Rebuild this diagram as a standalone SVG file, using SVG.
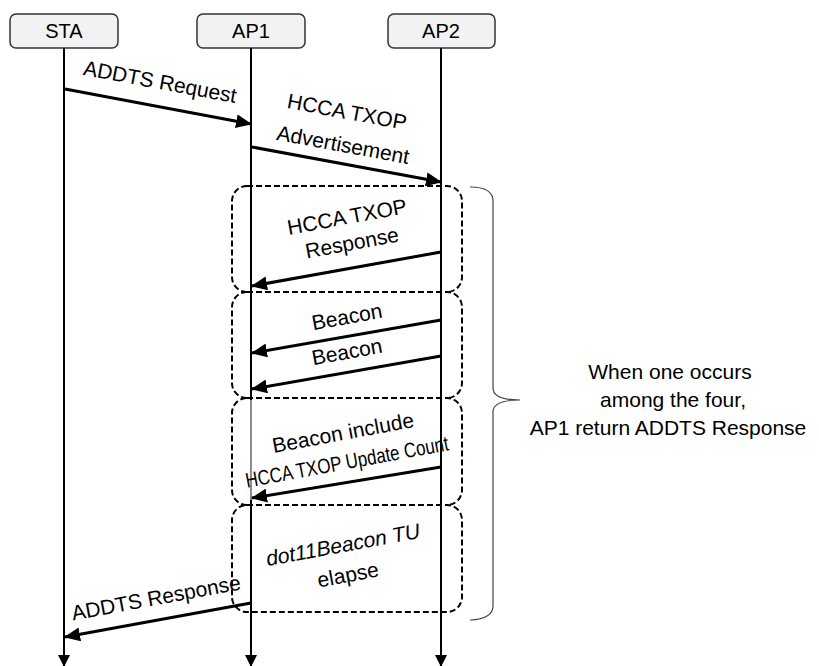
<svg xmlns="http://www.w3.org/2000/svg" width="819" height="666" viewBox="0 0 819 666">
  <style>
    .hdr { fill: #f2f2f2; stroke: #333; stroke-width: 1.5; }
    .hdrtxt { font-family: "Liberation Sans", Arial, sans-serif; font-size: 20px; fill: #000; text-anchor: middle; }
    .life { stroke: #000; stroke-width: 2; fill: none; marker-end: url(#down); }
    .msg { stroke: #000; stroke-width: 3; fill: none; marker-end: url(#head); }
    .lbl { font-family: "Liberation Sans", Arial, sans-serif; font-size: 21px; fill: #000; text-anchor: middle; }
    .box { fill: none; stroke: #000; stroke-width: 2; stroke-dasharray: 6 3; }
    .brace { fill: none; stroke: #444; stroke-width: 1.2; }
  </style>
  <defs>
    <marker id="head" viewBox="0 0 16 14" refX="15" refY="7" markerWidth="16" markerHeight="14" markerUnits="userSpaceOnUse" orient="auto">
      <path d="M0,0 L16,7 L0,14 z" fill="#000"/>
    </marker>
    <marker id="headGray" viewBox="0 0 16 14" refX="15" refY="7" markerWidth="16" markerHeight="14" markerUnits="userSpaceOnUse" orient="auto">
      <path d="M0,0 L16,7 L0,14 z" fill="#8c8c8c"/>
    </marker>
    <marker id="down" viewBox="0 0 12 12" refX="12" refY="6" markerWidth="12" markerHeight="12" markerUnits="userSpaceOnUse" orient="auto">
      <path d="M0,0 L12,6 L0,12 z" fill="#000"/>
    </marker>
  </defs>

  <!-- participants -->
  <g id="sta">
    <rect class="hdr" x="10" y="14" width="108" height="34" rx="6"/>
    <text class="hdrtxt" x="64" y="38">STA</text>
  </g>
  <g id="ap1">
    <rect class="hdr" x="197" y="14" width="108" height="34" rx="6"/>
    <text class="hdrtxt" x="251" y="38">AP1</text>
  </g>
  <g id="ap2">
    <rect class="hdr" x="388" y="14" width="107" height="34" rx="6"/>
    <text class="hdrtxt" x="441" y="38">AP2</text>
  </g>

  <!-- alternative condition boxes: a shared edge is drawn once, by the lower box -->
  <g id="cond-response">
    <path class="box" d="M247,186 H447 A15,15 0 0 1 462,201 V277 A15,15 0 0 1 447,292 M247,292 A15,15 0 0 1 232,277 V201 A15,15 0 0 1 247,186"/>
  </g>
  <g id="cond-beacons">
    <path class="box" d="M247,292 H447 A15,15 0 0 1 462,307 V383 A15,15 0 0 1 447,398 M247,398 A15,15 0 0 1 232,383 V307 A15,15 0 0 1 247,292"/>
  </g>
  <g id="cond-update-count">
    <path class="box" d="M247,398 H447 A15,15 0 0 1 462,413 V490 A15,15 0 0 1 447,505 M247,505 A15,15 0 0 1 232,490 V413 A15,15 0 0 1 247,398"/>
  </g>
  <g id="cond-timeout">
    <path class="box" d="M247,505 H447 A15,15 0 0 1 462,520 V597 A15,15 0 0 1 447,612 H247 A15,15 0 0 1 232,597 V520 A15,15 0 0 1 247,505"/>
  </g>

  <!-- connectors -->
  <g id="connectors">
    <line class="life" x1="64" y1="48" x2="64" y2="667"/>
    <line class="life" x1="251" y1="48" x2="251" y2="667"/>
    <line x1="251" y1="400" x2="251" y2="500" stroke="#8c8c8c" stroke-width="2"/>
    <line class="life" x1="441" y1="48" x2="441" y2="667"/>

    <line class="msg" x1="65" y1="89" x2="251" y2="124"/>
    <line class="msg" x1="252" y1="147" x2="441" y2="182"/>
    <line class="msg" x1="441" y1="252" x2="252" y2="286"/>
    <line class="msg" x1="441" y1="320" x2="252" y2="353"/>
    <line class="msg" x1="441" y1="356" x2="252" y2="389"/>
    <line class="msg" x1="441" y1="467" x2="252" y2="498" marker-end="url(#headGray)"/>
    <line class="msg" x1="251" y1="603" x2="65" y2="637"/>

    <path class="brace" d="M470,187 Q493,187 493,201 L493,388 Q493,400 520,400 Q493,400 493,412 L493,606 Q493,619 470,620"/>
  </g>

  <!-- message labels -->
  <g id="labels">
    <text class="lbl" transform="translate(160,82) rotate(10.5)" y="7">ADDTS Request</text>
    <text class="lbl" transform="translate(347,112) rotate(10.5)" y="7">HCCA TXOP</text>
    <text class="lbl" transform="translate(343,145) rotate(10.5)" y="7">Advertisement</text>
    <text class="lbl" transform="translate(347,217) rotate(-10.5)" y="7">HCCA TXOP</text>
    <text class="lbl" transform="translate(352,243) rotate(-10.5)" y="7">Response</text>
    <text class="lbl" transform="translate(347,317) rotate(-10.5)" y="7">Beacon</text>
    <text class="lbl" transform="translate(347,352) rotate(-10.5)" y="7">Beacon</text>
    <text class="lbl" transform="translate(343,433) rotate(-10.5)" y="7">Beacon include</text>
    <text class="lbl" transform="translate(347,462) rotate(-10.5)" y="7" textLength="206" lengthAdjust="spacingAndGlyphs">HCCA TXOP Update Count</text>
    <text class="lbl" transform="translate(343,545) rotate(-10.5)" y="7" font-style="italic">dot11Beacon TU</text>
    <text class="lbl" transform="translate(348,575) rotate(-10.5)" y="7">elapse</text>
    <text class="lbl" transform="translate(156,598) rotate(-10.5)" y="7">ADDTS Response</text>
  </g>

  <!-- note beside the brace -->
  <g id="note">
    <text class="lbl" x="670" y="379">When one occurs</text>
    <text class="lbl" x="673" y="407">among the four,</text>
    <text class="lbl" x="668" y="435">AP1 return ADDTS Response</text>
  </g>
</svg>
